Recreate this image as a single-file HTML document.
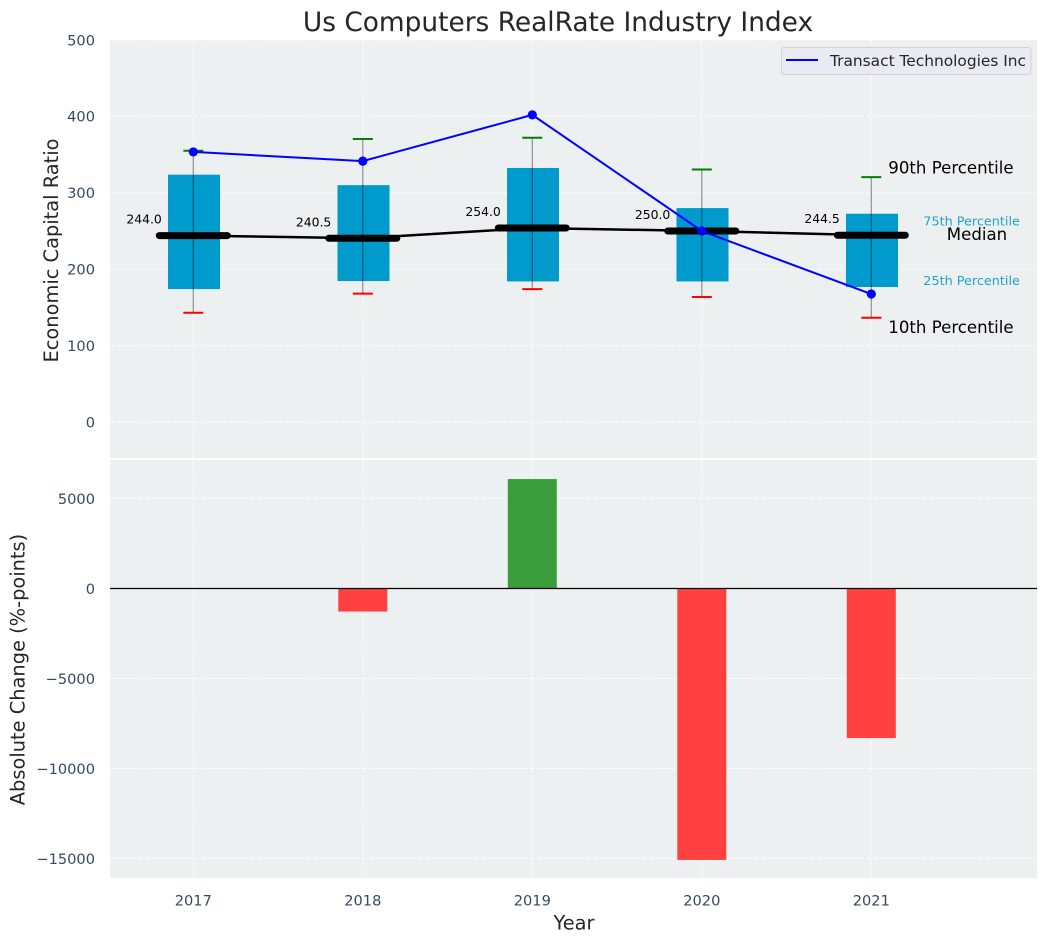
<!DOCTYPE html>
<html lang="en">
<head>
<meta charset="utf-8">
<title>Us Computers RealRate Industry Index</title>
<style>
html,body{margin:0;padding:0;background:#fff;width:1048px;height:942px;overflow:hidden}
svg{display:block;font-family:"DejaVu Sans","Liberation Sans",sans-serif}
</style>
</head>
<body>
<svg id="chart" xmlns="http://www.w3.org/2000/svg" width="1048" height="942" viewBox="0 0 1048 942">
  <rect width="1048" height="942" fill="#fff"/>
  <rect x="110" y="40" width="927" height="418" fill="#ecf0f1"/>
  <rect x="110" y="460" width="927" height="418" fill="#ecf0f1"/>
  <g id="grid"></g>
  <g id="bars"></g>
  <g id="boxes"></g>
  <g id="labels"></g>
  <text x="558" y="31" text-anchor="middle" font-size="26.4px" fill="#262626">Us Computers RealRate Industry Index</text>
  <text transform="translate(58,250.5) rotate(-90)" text-anchor="middle" font-size="19.4px" fill="#262626">Economic Capital Ratio</text>
  <text transform="translate(24.5,669.5) rotate(-90)" text-anchor="middle" font-size="19.4px" fill="#262626">Absolute Change (%-points)</text>
  <text x="574" y="929.5" text-anchor="middle" font-size="19.4px" fill="#262626">Year</text>
  <g>
    <rect x="781.5" y="47.5" width="249.5" height="27" rx="3" fill="#eaeaf2" stroke="#d0d0d6" stroke-width="1"/>
    <line x1="786" y1="60" x2="818" y2="60" stroke="#0000ff" stroke-width="2"/>
    <text x="830" y="66" font-size="15.4px" fill="#262626">Transact Technologies Inc</text>
  </g>
</svg>
<script>
// Chart data
const years = [2017, 2018, 2019, 2020, 2021];
const p90 = [355, 370.5, 372, 330.5, 320.5];
const p75 = [323.7, 310, 332.5, 280, 272.6];
const medians = [244.0, 240.5, 254.0, 250.0, 244.5];
const p25 = [174, 184.5, 184, 184, 176.7];
const p10 = [143, 168, 174, 163.6, 136.5];
const company = [353.5, 341.5, 402, 250, 167.5];
const changes = [0, -1280, 6080, -15080, -8310];
const topTicks = [0, 100, 200, 300, 400, 500];
const bottomTicks = [5000, 0, -5000, -10000, -15000];

// Axis functions
function xPos(year) { return 193.3 + (year - 2017) * 169.5; }
function yTop(value) { return 422 - value * 0.764; }
function yBottom(value) { return 588.5 - value * 0.018; }

const NS = 'http://www.w3.org/2000/svg';
function make(tag, parentId, attrs, text) {
  const el = document.createElementNS(NS, tag);
  for (const k in attrs) el.setAttribute(k, attrs[k]);
  if (text !== undefined) el.textContent = text;
  document.getElementById(parentId).appendChild(el);
  return el;
}
const GRID = {stroke: '#ffffff', 'stroke-width': 1, 'stroke-dasharray': '5 2', 'stroke-opacity': 0.8};
function tickText(fmt) {
  return String(fmt).replace('-', '\u2212');
}

// Grid and tick labels
topTicks.forEach(function (t) {
  const y = yTop(t);
  const g = make('line', 'grid', Object.assign({x1: 110, x2: 1037, y1: y, y2: y}, GRID));
  
  
  const l = make('text', 'labels', {x: 95, y: y + 5.3, 'text-anchor': 'end', 'font-size': '14.6px', fill: '#34495e'}, tickText(t));
  
  
});
bottomTicks.forEach(function (t) {
  const y = yBottom(t);
  const g = make('line', 'grid', Object.assign({x1: 110, x2: 1037, y1: y, y2: y}, GRID));
  
  
  const l = make('text', 'labels', {x: 95, y: y + 5.3, 'text-anchor': 'end', 'font-size': '14.6px', fill: '#34495e'}, tickText(t));
  
  
});
years.forEach(function (yr) {
  const x = xPos(yr);
  const g1 = make('line', 'grid', Object.assign({x1: x, x2: x, y1: 40, y2: 458}, GRID));
  
  
  const g2 = make('line', 'grid', Object.assign({x1: x, x2: x, y1: 460, y2: 878}, GRID));
  
  
  const l = make('text', 'labels', {x: x, y: 905.3, 'text-anchor': 'middle', 'font-size': '14.6px', fill: '#34495e'}, String(yr));
  
  
});

// Change bars
years.forEach(function (yr, i) {
  const v = changes[i];
  if (v === 0) return;
  const y0 = yBottom(0), y1 = yBottom(v);
  const b = make('rect', 'bars', {
    x: xPos(yr) - 24.5, width: 49,
    y: Math.min(y0, y1), height: Math.abs(y1 - y0),
    fill: v >= 0 ? '#3a9d3c' : '#ff4040'
  });
  
  
});
const zero = make('line', 'bars', {x1: 110, x2: 1037, y1: yBottom(0), y2: yBottom(0), stroke: '#000', 'stroke-width': 1.2});



// Percentile boxes
years.forEach(function (yr, i) {
  const x = xPos(yr);
  const box = make('rect', 'boxes', {
    x: x - 25.3, width: 52,
    y: yTop(p75[i]), height: yTop(p25[i]) - yTop(p75[i]),
    fill: '#009acd'
  });
  
  
});

// Median connecting line
const medLine = make('polyline', 'boxes', {
  points: years.map(function (yr, i) { return xPos(yr) + ',' + yTop(medians[i]); }).join(' '),
  fill: 'none', stroke: '#000', 'stroke-width': 2.5
});



// Whiskers, caps, median bars, value labels
years.forEach(function (yr, i) {
  const x = xPos(yr);
  const whisker = make('line', 'boxes', {x1: x, x2: x, y1: yTop(p10[i]), y2: yTop(p90[i]), stroke: '#000', 'stroke-opacity': 0.42, 'stroke-width': 1.2});
  
  
  const capHi = make('line', 'boxes', {x1: x - 10, x2: x + 10, y1: yTop(p90[i]), y2: yTop(p90[i]), stroke: '#008000', 'stroke-width': 2});
  
  
  const capLo = make('line', 'boxes', {x1: x - 10, x2: x + 10, y1: yTop(p10[i]), y2: yTop(p10[i]), stroke: '#ff0000', 'stroke-width': 2});
  
  
  const med = make('line', 'boxes', {x1: x - 34, x2: x + 34, y1: yTop(medians[i]), y2: yTop(medians[i]), stroke: '#000', 'stroke-width': 7, 'stroke-linecap': 'round'});
  
  
  const lab = make('text', 'boxes', {x: x - 31.5, y: yTop(medians[i]) - 12, 'text-anchor': 'end', 'font-size': '12.4px', fill: '#000'}, medians[i].toFixed(1));
  
  
});

// Company line
const coLine = make('polyline', 'boxes', {
  points: years.map(function (yr, i) { return xPos(yr) + ',' + yTop(company[i]); }).join(' '),
  fill: 'none', stroke: '#0000ff', 'stroke-width': 2
});


years.forEach(function (yr, i) {
  const dot = make('circle', 'boxes', {cx: xPos(yr), cy: yTop(company[i]), r: 4.6, fill: '#0000ff'});
  
  
});

// Percentile annotations beside the last box
const last = years.length - 1;
const ax = xPos(years[last]);
const a90 = make('text', 'boxes', {x: ax + 17, y: yTop(p90[last]) - 3.5, 'font-size': '16.6px', fill: '#000'}, '90th Percentile');


const a75 = make('text', 'boxes', {x: ax + 52, y: yTop(p75[last]) + 12, 'font-size': '12.8px', fill: '#1fa3cf'}, '75th Percentile');


const aMed = make('text', 'boxes', {x: ax + 75.5, y: yTop(medians[last]) + 5, 'font-size': '16.6px', fill: '#000'}, 'Median');


const a25 = make('text', 'boxes', {x: ax + 52, y: yTop(p25[last]) - 2, 'font-size': '12.8px', fill: '#1fa3cf'}, '25th Percentile');


const a10 = make('text', 'boxes', {x: ax + 17, y: yTop(p10[last]) + 15.5, 'font-size': '16.6px', fill: '#000'}, '10th Percentile');


</script>
</body>
</html>
